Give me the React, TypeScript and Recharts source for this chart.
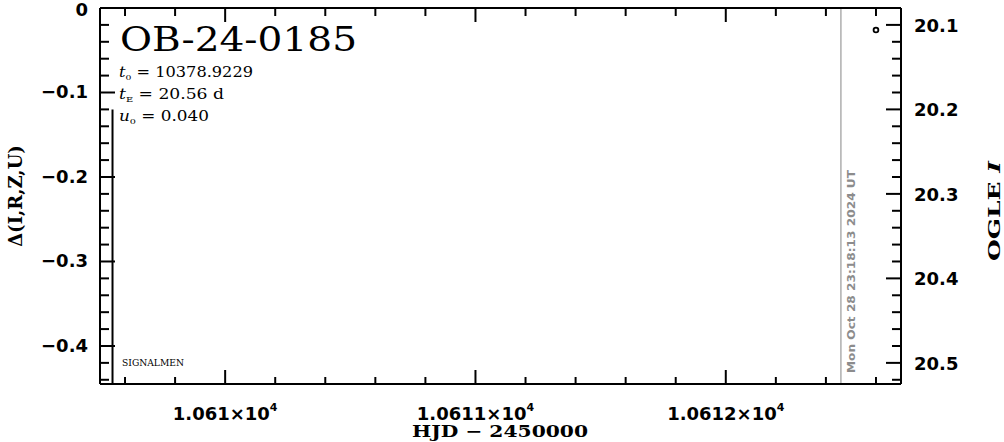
import { ComposedChart, XAxis, YAxis, Line, Scatter, ReferenceLine } from "recharts";

// model curve (left axis, delta mag) and the single OGLE point (right axis)
const modelHjd = [10609.55, 10609.55];
const modelDelta = [-0.12, -0.46];
const obsHjd = [10612.6];
const obsMag = [20.106];

const xTicks = [
  10609.6, 10609.8, 10610, 10610.2, 10610.4, 10610.6, 10610.8, 10611, 10611.2, 10611.4,
  10611.6, 10611.8, 10612, 10612.2, 10612.4, 10612.6,
];
const xMajor = [10610, 10611, 10612];
const xMajorLabels = ["1.061", "1.0611", "1.0612"];

const deltaTicks = [
  0, -0.02, -0.04, -0.06, -0.08, -0.1, -0.12, -0.14, -0.16, -0.18, -0.2, -0.22, -0.24,
  -0.26, -0.28, -0.3, -0.32, -0.34, -0.36, -0.38, -0.4, -0.42, -0.44,
];
const magTicks = [
  20.1, 20.12, 20.14, 20.16, 20.18, 20.2, 20.22, 20.24, 20.26, 20.28, 20.3, 20.32, 20.34,
  20.36, 20.38, 20.4, 20.42, 20.44, 20.46, 20.48, 20.5, 20.52,
];

const nowHjd = 10612.46;
const nowLabel = "Mon Oct 28 23:18:13 2024 UT";
const title = "OB-24-0185";
const paramNames = ["t", "t", "u"];
const paramSubs = ["0", "E", "0"];
const paramValues = ["10378.9229", "20.56 d", "0.040"];
const paramWidths = [134, 105, 90];

const modelData = modelHjd.map((h, i) => ({ hjd: h, d: modelDelta[i] }));
const obsData = obsHjd.map((h, i) => ({ hjd: h, mag: obsMag[i] }));

const W = 1004;
const H = 442;
const tickFont = "'DejaVu Sans', sans-serif";
const serif = "'DejaVu Serif', serif";

const isTenth = (v: number) => Math.abs(v * 10 - Math.round(v * 10)) < 1e-6;

function LeftTick(props: any) {
  const { x, y, payload } = props;
  const v = payload.value;
  const major = isTenth(v);
  const txt = v === 0 ? "0" : "\u2212" + Math.abs(v).toFixed(1);
  return (
    <g>
      <line x1={x} x2={x + (major ? 15 : 9)} y1={y} y2={y} stroke="#000" strokeWidth={2} />
      {major && (
        <text x={x - 12} y={y + (v === 0 ? 8 : 6)} textAnchor="end" fontFamily={tickFont} fontWeight="bold" fontSize={18} fill="#000">
          {txt}
        </text>
      )}
    </g>
  );
}

function RightTick(props: any) {
  const { x, y, payload } = props;
  const v = payload.value;
  const major = isTenth(v);
  return (
    <g>
      <line x1={x} x2={x - (major ? 15 : 9)} y1={y} y2={y} stroke="#000" strokeWidth={2} />
      {major && (
        <text x={x + 13} y={y + 7} textAnchor="start" fontFamily={tickFont} fontWeight="bold" fontSize={18} fill="#000">
          {v.toFixed(1)}
        </text>
      )}
    </g>
  );
}

function BottomTick(props: any) {
  const { x, y, payload } = props;
  const idx = xMajor.indexOf(payload.value);
  const major = idx >= 0;
  return (
    <g>
      <line x1={x} x2={x} y1={y} y2={y - (major ? 14 : 7)} stroke="#000" strokeWidth={2} />
      {major && (
        <text x={x} y={y + 36} textAnchor="middle" fontFamily={tickFont} fontWeight="bold" fontSize={18} fill="#000">
          {xMajorLabels[idx]}×10
          <tspan dy={-9} fontSize={11}>4</tspan>
        </text>
      )}
    </g>
  );
}

function TopTick(props: any) {
  const { x, y, payload } = props;
  const major = xMajor.indexOf(payload.value) >= 0;
  return <line x1={x} x2={x} y1={y} y2={y + (major ? 14 : 8)} stroke="#000" strokeWidth={2} />;
}

function NowLabel(props: any) {
  const { viewBox } = props;
  const x = viewBox.x + 14;
  const y = viewBox.y + viewBox.height - 11;
  return (
    <text
      x={x}
      y={y}
      transform={`rotate(-90 ${x} ${y})`}
      fontFamily={tickFont}
      fontWeight="bold"
      fontSize={11}
      fill="#8c8c8c"
      textLength={203}
      lengthAdjust="spacingAndGlyphs"
    >
      {nowLabel}
    </text>
  );
}

const axisLine = { stroke: "#000", strokeWidth: 2 };

export default function App() {
  return (
    <div style={{ position: "absolute", left: 0, top: 0, width: W, height: H, background: "#fff" }}>
      <ComposedChart width={W} height={H} margin={{ top: 0, right: 0, bottom: 0, left: 0 }}>
        <XAxis
          xAxisId="b"
          type="number"
          dataKey="hjd"
          domain={[10609.5, 10612.7]}
          allowDataOverflow
          ticks={xTicks}
          interval={0}
          height={58}
          tickSize={0}
          tickMargin={0}
          tickLine={false}
          axisLine={axisLine}
          tick={<BottomTick />}
        />
        <XAxis
          xAxisId="t"
          orientation="top"
          type="number"
          dataKey="hjd"
          domain={[10609.5, 10612.7]}
          allowDataOverflow
          ticks={xTicks}
          interval={0}
          height={8}
          tickSize={0}
          tickMargin={0}
          tickLine={false}
          axisLine={axisLine}
          tick={<TopTick />}
        />
        <YAxis
          yAxisId="d"
          type="number"
          domain={[-0.445, 0]}
          allowDataOverflow
          ticks={deltaTicks}
          interval={0}
          width={100}
          tickSize={0}
          tickMargin={0}
          tickLine={false}
          axisLine={axisLine}
          tick={<LeftTick />}
        />
        <YAxis
          yAxisId="m"
          orientation="right"
          type="number"
          reversed
          domain={[20.08, 20.525]}
          allowDataOverflow
          ticks={magTicks}
          interval={0}
          width={103}
          tickSize={0}
          tickMargin={0}
          tickLine={false}
          axisLine={axisLine}
          tick={<RightTick />}
        />
        <ReferenceLine
          xAxisId="b"
          yAxisId="d"
          x={nowHjd}
          stroke="#999"
          strokeWidth={1.2}
          label={<NowLabel />}
        />
        <Line
          xAxisId="b"
          yAxisId="d"
          data={modelData}
          dataKey="d"
          stroke="#000"
          strokeWidth={2}
          dot={false}
          isAnimationActive={false}
        />
        <Scatter
          xAxisId="b"
          yAxisId="m"
          data={obsData}
          dataKey="mag"
          isAnimationActive={false}
          shape={(p: any) => <circle cx={p.cx} cy={p.cy} r={2.4} fill="#fff" stroke="#000" strokeWidth={1.8} />}
        />
      </ComposedChart>
      <svg width={W} height={H} style={{ position: "absolute", left: 0, top: 0, pointerEvents: "none" }}>
        <text x={120} y={51} fontFamily={serif} fontSize={33} fill="#000" textLength={237} lengthAdjust="spacingAndGlyphs">
          {title}
        </text>
        {paramNames.map((n, i) => (
          <text
            key={i}
            x={119}
            y={77 + i * 22}
            fontFamily={serif}
            fontSize={14}
            fill="#000"
            textLength={paramWidths[i]}
            lengthAdjust="spacingAndGlyphs"
          >
            <tspan fontStyle="italic">{n}</tspan>
            <tspan fontSize={8} dy={3}>{paramSubs[i]}</tspan>
            <tspan dy={-3}>{" = " + paramValues[i]}</tspan>
          </text>
        ))}
        <text x={122} y={366} fontFamily={serif} fontSize={8.5} fill="#000" textLength={62} lengthAdjust="spacingAndGlyphs">
          SIGNALMEN
        </text>
        <text
          x={22}
          y={196}
          transform="rotate(-90 22 196)"
          textAnchor="middle"
          fontFamily={serif}
          fontWeight="bold"
          fontSize={18}
          fill="#000"
        >
          Δ(I,R,Z,U)
        </text>
        <text
          x={1000}
          y={211}
          transform="rotate(-90 1000 211)"
          textAnchor="middle"
          fontFamily={serif}
          fontWeight="bold"
          fontSize={17}
          fill="#000"
          textLength={100}
          lengthAdjust="spacingAndGlyphs"
        >
          OGLE <tspan fontStyle="italic">I</tspan>
        </text>
        <text
          x={500}
          y={437}
          textAnchor="middle"
          fontFamily={serif}
          fontWeight="bold"
          fontSize={17}
          fill="#000"
          textLength={176}
          lengthAdjust="spacingAndGlyphs"
        >
          HJD − 2450000
        </text>
      </svg>
    </div>
  );
}
